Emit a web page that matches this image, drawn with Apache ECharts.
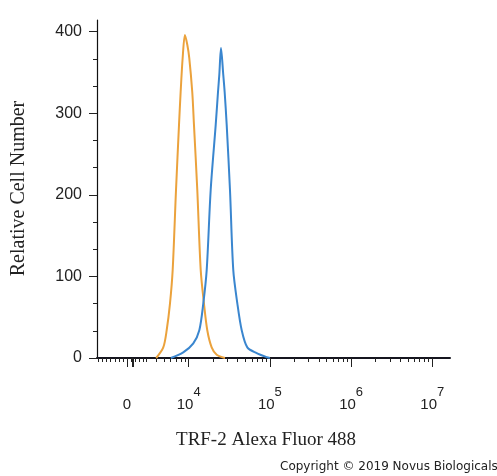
<!DOCTYPE html>
<html><head><meta charset="utf-8">
<script src="https://cdn.jsdelivr.net/npm/echarts@6/dist/echarts.min.js"></script>
<style>html,body{margin:0;padding:0;background:#fff}#c{width:497px;height:476px}</style>
</head><body><div id="c"></div>
<script>
// Histogram curves: x = log10(fluorescence intensity), y = relative cell number
const orangeX = [3.600, 3.687, 3.729, 3.770, 3.803, 3.844, 3.881, 3.901, 3.926, 3.954, 3.983, 4.007, 4.044, 4.065, 4.106, 4.148, 4.188, 4.229, 4.283, 4.345, 4.447];
const orangeY = [0, 13, 34, 67, 108, 206, 286, 326, 368, 396, 384, 368, 326, 286, 206, 108, 67, 34, 13, 4, 0];
const blueX = [3.780, 3.933, 4.057, 4.131, 4.180, 4.222, 4.271, 4.333, 4.361, 4.377, 4.398, 4.426, 4.443, 4.468, 4.509, 4.549, 4.599, 4.653, 4.722, 4.837, 4.961, 5.000];
const blueY = [0, 7, 18, 34, 67, 108, 206, 286, 326, 347, 380, 347, 326, 286, 205, 108, 67, 34, 13, 6, 1, 0];

// Axis ticks / labels
const yTickValues = [0, 100, 200, 300, 400];
const yMinorValues = [33.3, 66.7, 133.3, 166.7, 233.3, 266.7, 333.3, 366.7];
const xZeroPos = 3.24;              // position of "0" on the biexponential axis
const xLabelPos = [xZeroPos, 4, 5, 6, 7];
const xLabelBase = ['0', '10', '10', '10', '10'];
const xLabelExp = ['', '4', '5', '6', '7'];
const xMin = 2.871, xMax = 7.218, yMax = 414.3;

const majorX = xLabelPos.concat([3.30, 3.31, 3.32]);
const minorX = [];
for (let p = xZeroPos - 0.05; p > 2.88; p -= 0.05) minorX.push(+p.toFixed(3));
for (let p = xZeroPos + 0.05; p < 3.46; p += 0.05) minorX.push(+p.toFixed(3));
for (let n = 3; n <= 6; n++) for (let k = 2; k <= 9; k++) {
  const v = n + Math.log10(k); if (v > 3.46) minorX.push(v);
}

const zip = (xs, ys) => xs.map((x, i) => [x, ys[i]]);
const chart = echarts.init(document.getElementById('c'));
chart.setOption({
  animation: false,
  backgroundColor: '#fff',
  grid: { left: 97, right: 47, top: 20, bottom: 118, outerBoundsMode: 'none' },
  xAxis: [{
    type: 'value', min: xMin, max: xMax, position: 'bottom',
    axisLine: { show: true, lineStyle: { color: '#15151f', width: 2 } },
    axisTick: { show: true, customValues: majorX, length: 9, lineStyle: { color: '#222', width: 1 } },
    axisLabel: {
      customValues: xLabelPos, margin: 33, color: '#222',
      formatter: function (v) {
        const i = xLabelPos.findIndex(p => Math.abs(p - v) < 1e-6);
        if (i < 0) return '';
        return xLabelExp[i] ? '{b|' + xLabelBase[i] + '}{s|' + xLabelExp[i] + '}' : '{z|' + xLabelBase[i] + '}';
      },
      rich: {
        z: { fontSize: 15, fontFamily: 'Liberation Sans', color: '#222', lineHeight: 16, padding: [12, 0, 0, 0] },
        b: { fontSize: 15, fontFamily: 'Liberation Sans', color: '#222', lineHeight: 16, padding: [12, 0, 0, 0] },
        s: { fontSize: 13, fontFamily: 'Liberation Sans', color: '#222', lineHeight: 14, padding: [0, 0, 14, 0] }
      }
    },
    splitLine: { show: false }
  }, {
    type: 'value', min: xMin, max: xMax, position: 'bottom',
    axisLine: { show: false },
    axisTick: { show: true, customValues: minorX, length: 4, lineStyle: { color: '#222', width: 1 } },
    axisLabel: { show: false },
    splitLine: { show: false }
  }],
  yAxis: [{
    type: 'value', min: 0, max: yMax, position: 'left',
    axisLine: { show: true, lineStyle: { color: '#111', width: 1.2 } },
    axisTick: { show: true, customValues: yTickValues, length: 8, lineStyle: { color: '#222', width: 1 } },
    axisLabel: { customValues: yTickValues, margin: 15, fontSize: 16, fontFamily: 'Liberation Sans', color: '#222' },
    splitLine: { show: false }
  }, {
    type: 'value', min: 0, max: yMax, position: 'left',
    axisLine: { show: false },
    axisTick: { show: true, customValues: yMinorValues, length: 4, lineStyle: { color: '#222', width: 1 } },
    axisLabel: { show: false },
    splitLine: { show: false }
  }],
  series: [{
    type: 'line', xAxisIndex: 0, yAxisIndex: 0, data: zip(orangeX, orangeY),
    showSymbol: false, smooth: 0.3,
    lineStyle: { color: '#EBA23C', width: 2 }, z: 3
  }, {
    type: 'line', xAxisIndex: 0, yAxisIndex: 0, data: zip(blueX, blueY),
    showSymbol: false, smooth: 0.3,
    lineStyle: { color: '#3A86CF', width: 2 }, z: 4
  }],
  graphic: [
    { type: 'text', x: 266, y: 440, style: { text: 'TRF-2 Alexa Fluor 488', font: '19px "Liberation Serif"', fill: '#222', align: 'center', verticalAlign: 'middle' } },
    { type: 'text', x: 18.5, y: 188.5, rotation: Math.PI / 2, style: { text: 'Relative Cell Number', font: '20px "Liberation Serif"', fill: '#222', align: 'center', verticalAlign: 'middle' } },
    { type: 'text', x: 280, y: 467, style: { text: 'Copyright \u00A9 2019 Novus Biologicals', font: '12px "DejaVu Sans"', fill: '#222', align: 'left', verticalAlign: 'middle' } }
  ]
});
</script>
</body></html>
